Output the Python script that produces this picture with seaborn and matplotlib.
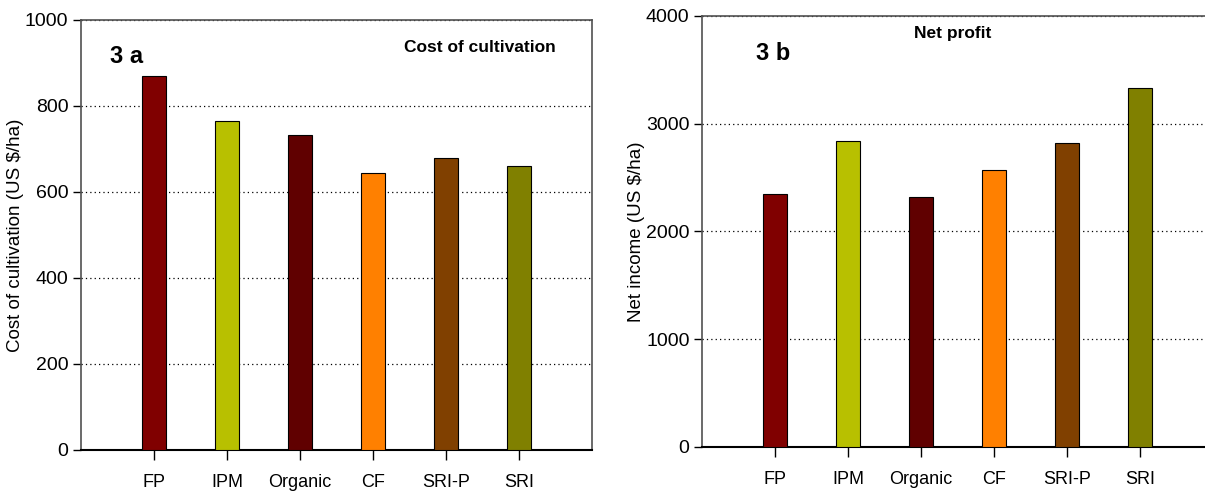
import pandas as pd
import matplotlib.pyplot as plt
import seaborn as sns

# Data
systems = ["FP", "IPM", "Organic", "CF", "SRI-P", "SRI"]
cost_of_cultivation = [870, 765, 733, 645, 678, 661]
net_income = [2350, 2840, 2317, 2574, 2821, 3335]
bar_colors = ["#800000", "#B8C000", "#600000", "#FF8000", "#804000", "#808000"]

cost_df = pd.DataFrame({"system": systems, "value": cost_of_cultivation})
profit_df = pd.DataFrame({"system": systems, "value": net_income})
palette = dict(zip(systems, bar_colors))

sns.set_style("white")
plt.rcParams["font.family"] = ["Liberation Sans", "DejaVu Sans"]
plt.rcParams["text.color"] = "black"
plt.rcParams["axes.labelcolor"] = "black"
plt.rcParams["xtick.color"] = "black"
plt.rcParams["ytick.color"] = "black"

fig = plt.figure(figsize=(12.05, 4.92), dpi=100)
ax1 = fig.add_axes([0.0672, 0.0854, 0.4241, 0.874])
ax2 = fig.add_axes([0.5826, 0.0915, 0.4241, 0.876])


def draw_panel(ax, df, ymax, step, ylabel):
    sns.barplot(data=df, x="system", y="value", hue="system", palette=palette,
                saturation=1, width=0.34, edgecolor="black", linewidth=0.8,
                legend=False, ax=ax, zorder=3)
    ax.set_xlim(-1, 6)
    ax.set_ylim(0, ymax)
    ax.set_yticks(range(0, ymax + 1, step))
    ax.yaxis.grid(True, linestyle=(0, (1, 2.5)), color="black", linewidth=0.9)
    ax.set_axisbelow(True)
    ax.set_xlabel("")
    ax.set_ylabel(ylabel, fontsize=13.5, labelpad=1)
    ax.tick_params(axis="y", direction="out", length=6, width=1, labelsize=14,
                   left=True, pad=3)
    ax.tick_params(axis="x", direction="out", length=7, width=1, labelsize=13,
                   bottom=True, pad=10)
    for side in ["left", "top", "right"]:
        ax.spines[side].set_color("#505050")
        ax.spines[side].set_linewidth(1.2)
    ax.spines["bottom"].set_color("black")
    ax.spines["bottom"].set_linewidth(1.5)


draw_panel(ax1, cost_df, 1000, 200, "Cost of cultivation (US $/ha)")
draw_panel(ax2, profit_df, 4000, 1000, "Net income (US $/ha)")

ax1.text(0.057, 0.915, "3 a", transform=ax1.transAxes, fontsize=17,
         fontweight="bold", va="center")
ax1.text(0.93, 0.935, "Cost of cultivation", transform=ax1.transAxes,
         fontsize=12.5, fontweight="bold", ha="right", va="center")
ax2.text(0.105, 0.912, "3 b", transform=ax2.transAxes, fontsize=17,
         fontweight="bold", va="center")
ax2.text(0.49, 0.96, "Net profit", transform=ax2.transAxes,
         fontsize=12.5, fontweight="bold", ha="center", va="center")

fig.savefig("out.png", dpi=100)
